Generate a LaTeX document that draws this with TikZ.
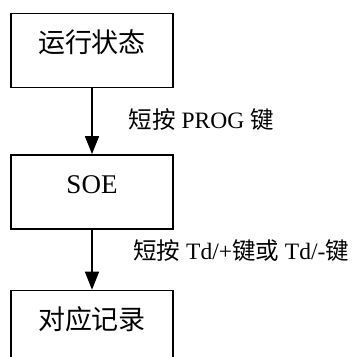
\documentclass[tikz,border=0pt]{standalone}
\usepackage{fontspec}
\setmainfont{Liberation Serif}
\newfontfamily\cjk{Noto Sans CJK SC}
\usepackage{tikz}
\usetikzlibrary{positioning}
\usetikzlibrary{arrows.meta}
\tikzstyle{Box}=[rectangle,draw=black,line width=1.6pt,inner sep=0pt,
minimum width=161.5pt,minimum height=74pt,text height=20pt,text depth=16pt,
font=\fontsize{27}{30}\selectfont]
\tikzstyle{Edge}=[draw=black,line width=1.6pt,
-{Triangle[width=14pt,length=18pt]}]
\tikzstyle{NodeLbl}=[font=\fontsize{23.5}{26}\selectfont,inner sep=2pt]

\begin{document}
\begin{tikzpicture}[x=1pt,y=1pt]
        \useasboundingbox(0,0)rectangle(355,-357);
        \clip(0,0)rectangle(355,-357);
        \node[Box](run)at(92,-50.3){\cjk 运行状态};
        \node[Box,below=66pt of run](soe){SOE};
        \node[Box,below=60pt of soe](rec){\cjk 对应记录};
        \draw[Edge](run)--node[NodeLbl,right=34pt,yshift=2pt]
            {{\cjk 短按} PROG {\cjk 键}}(soe);
        \draw[Edge](soe)--node[NodeLbl,right=38.5pt,yshift=9.5pt]
            {{\cjk 短按} Td/+{\cjk 键或} Td/-{\cjk 键}}(rec);
    \end{tikzpicture}
\end{document}
